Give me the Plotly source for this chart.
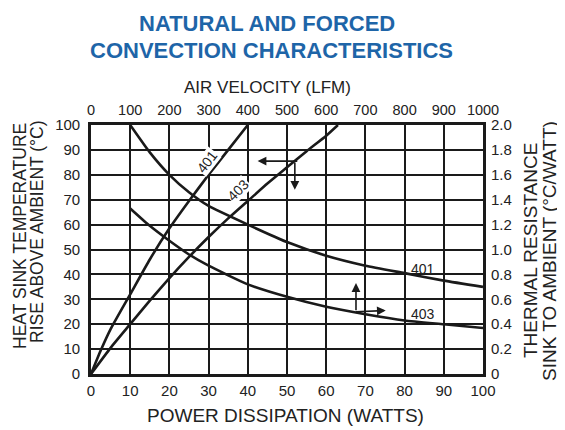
import plotly.graph_objects as go

# ---- data ----
# Heat sink temperature rise (deg C) vs power dissipation (W)  -> bottom / left axes
power_401 = [0, 2.5, 5, 10, 15, 20, 25, 30, 35, 40]
temp_401 = [0, 9.5, 18, 32, 46, 58.5, 69.5, 80, 90, 100]
power_403 = [0, 5, 10, 15, 20, 25, 30, 35, 40, 45, 50, 55, 60, 63]
temp_403 = [0, 10.5, 20, 29.5, 38.5, 47, 55, 62.5, 69.5, 76.5, 83, 89.5, 95.7, 100]

# Thermal resistance (deg C/W) vs air velocity (LFM)  -> top / right axes
velocity_401 = [100, 150, 200, 250, 300, 400, 500, 600, 700, 800, 900, 1000]
rth_401 = [2.0, 1.78, 1.6, 1.46, 1.35, 1.2, 1.06, 0.95, 0.87, 0.81, 0.75, 0.70]
velocity_403 = [100, 150, 200, 250, 300, 400, 500, 600, 700, 800, 900, 1000]
rth_403 = [1.33, 1.19, 1.07, 0.96, 0.87, 0.72, 0.62, 0.54, 0.48, 0.43, 0.40, 0.37]

power_ticks = [0, 10, 20, 30, 40, 50, 60, 70, 80, 90, 100]
temp_ticks = [0, 10, 20, 30, 40, 50, 60, 70, 80, 90, 100]
velocity_ticks = [0, 100, 200, 300, 400, 500, 600, 700, 800, 900, 1000]
rth_ticks = [0, 0.2, 0.4, 0.6, 0.8, 1.0, 1.2, 1.4, 1.6, 1.8, 2.0]
rth_tick_text = ["0", "0.2", "0.4", "0.6", "0.8", "1.0", "1.2", "1.4", "1.6", "1.8", "2.0"]

FONT = "Liberation Sans, Arial, sans-serif"
TICKFONT = dict(family=FONT, size=15, color="#222")
LINE = dict(color="#1a1a1a", width=2.6, shape="spline", smoothing=0.5)

# plot area in window pixels: x 91..483, y 125..374 (page body has an 8px margin)
X0, X1, Y0, Y1 = 91, 483, 125, 374


def px(x, y):
    return (x - X0) / (X1 - X0), (Y1 - y) / (Y1 - Y0)


fig = go.Figure()
fig.add_trace(go.Scatter(x=power_401, y=temp_401, mode="lines", line=LINE, xaxis="x", yaxis="y"))
fig.add_trace(go.Scatter(x=power_403, y=temp_403, mode="lines", line=LINE, xaxis="x", yaxis="y"))
fig.add_trace(go.Scatter(x=velocity_401, y=rth_401, mode="lines", line=LINE, xaxis="x2", yaxis="y2"))
fig.add_trace(go.Scatter(x=velocity_403, y=rth_403, mode="lines", line=LINE, xaxis="x2", yaxis="y2"))

grid = dict(showgrid=True, gridcolor="#1a1a1a", gridwidth=1.6, zeroline=False,
            showline=True, linecolor="#1a1a1a", linewidth=2.6, mirror=True,
            ticks="", tickfont=TICKFONT)

fig.update_layout(
    width=557, height=422,
    margin=dict(l=83, r=82, t=117, b=56),
    paper_bgcolor="white", plot_bgcolor="white",
    showlegend=False,
    xaxis=dict(range=[0, 100], tickvals=power_ticks, ticklabelstandoff=1, **grid),
    yaxis=dict(range=[0, 100], tickvals=temp_ticks, ticklabelstandoff=5, **grid),
    xaxis2=dict(range=[0, 1000], tickvals=velocity_ticks, overlaying="x", side="top",
                showgrid=False, zeroline=False, showline=False, ticks="",
                tickfont=dict(family=FONT, size=14.5, color="#222"), ticklabelstandoff=6),
    yaxis2=dict(range=[0, 2.0], tickvals=rth_ticks, ticktext=rth_tick_text, overlaying="y",
                side="right", showgrid=False, zeroline=False, showline=False, ticks="",
                tickfont=TICKFONT, ticklabelstandoff=7),
)

ann = []


def txt(text, cx, cy, size, angle=0, color="#222", bold=False):
    x, y = px(cx, cy)
    ann.append(dict(text=f"<b>{text}</b>" if bold else text, xref="paper", yref="paper", x=x, y=y,
                    xanchor="center", yanchor="middle", showarrow=False, textangle=angle,
                    font=dict(family=FONT, size=size, color=color)))


# chart title
txt("NATURAL AND FORCED", 267, 23, 22, color="#1e65a8", bold=True)
txt("CONVECTION CHARACTERISTICS", 271, 50, 22, color="#1e65a8", bold=True)
# axis titles
txt("AIR VELOCITY (LFM)", 267, 88, 17)
txt("POWER DISSIPATION (WATTS)", 285, 416, 19)
txt("HEAT SINK TEMPERATURE", 20, 236, 17.5, angle=-90)
txt("RISE ABOVE AMBIENT (°C)", 37, 232, 17.5, angle=-90)
txt("THERMAL RESISTANCE", 530, 251, 19, angle=-90)
txt("SINK TO AMBIENT (°C/WATT)", 549, 251, 19, angle=-90)

# curve labels
LBL = dict(family=FONT, size=14, color="#222")
ann.append(dict(text="401", x=29.5, y=85.3, xref="x", yref="y", showarrow=False, textangle=-52,
                bgcolor="white", font=LBL, borderpad=0))
ann.append(dict(text="403", x=37.5, y=74, xref="x", yref="y", showarrow=False, textangle=-45,
                bgcolor="white", font=LBL, borderpad=0))
ann.append(dict(text="401", x=847, y=0.845, xref="x2", yref="y2", showarrow=False, font=LBL))
ann.append(dict(text="403", x=847, y=0.48, xref="x2", yref="y2", showarrow=False, font=LBL))

# arrows pointing to the relevant axes
ARW = dict(showarrow=True, text="", arrowhead=2, arrowsize=1.1, arrowwidth=1.6, arrowcolor="#1a1a1a")
ann.append(dict(x=42.5, y=85.5, ax=53, ay=85.5, xref="x", yref="y", axref="x", ayref="y", **ARW))
ann.append(dict(x=52, y=74, ax=52, ay=85.5, xref="x", yref="y", axref="x", ayref="y", **ARW))
ann.append(dict(x=676, y=0.73, ax=676, ay=0.50, xref="x2", yref="y2", axref="x2", ayref="y2", **ARW))
ann.append(dict(x=752, y=0.51, ax=672, ay=0.50, xref="x2", yref="y2", axref="x2", ayref="y2", **ARW))

fig.update_layout(annotations=ann)
fig.write_html("out.html")
